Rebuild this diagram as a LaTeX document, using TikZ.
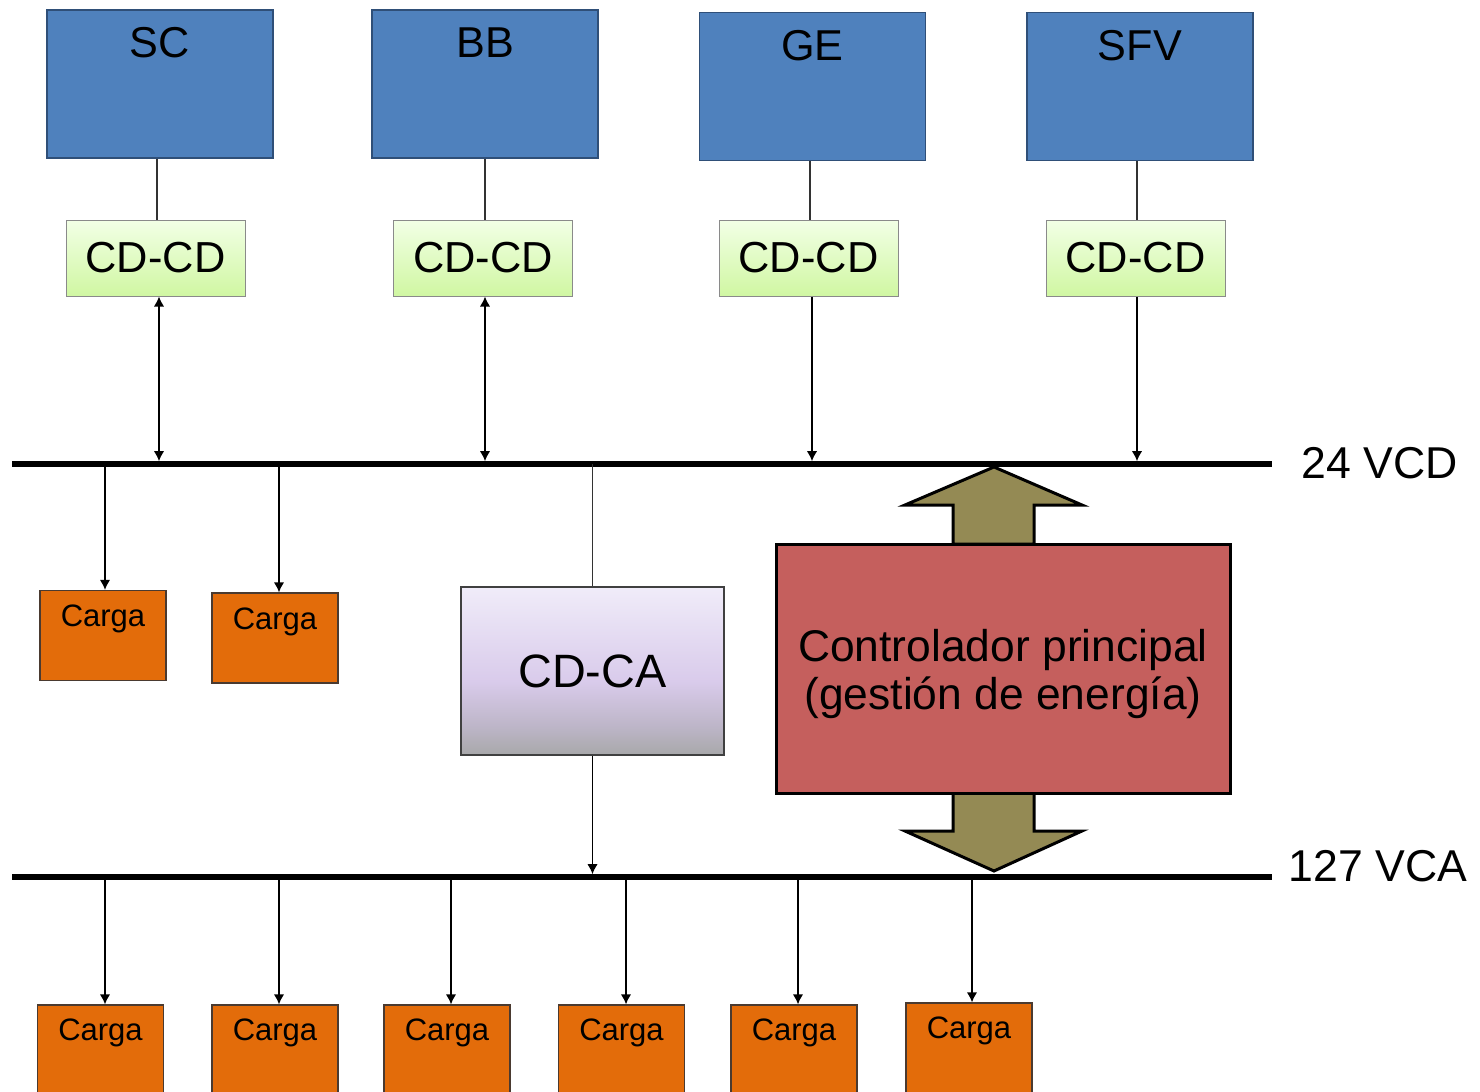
\documentclass[tikz,border=0pt]{standalone}
\usepackage{fontspec}
\setmainfont{Liberation Sans}
\usetikzlibrary{arrows.meta}
\definecolor{bluefill}{HTML}{4F81BD}
\definecolor{blueline}{HTML}{2F4F78}
\definecolor{greentop}{HTML}{F2FFE6}
\definecolor{greenbot}{HTML}{D0F7A2}
\definecolor{greenline}{HTML}{8A8A8A}
\definecolor{lavtop}{HTML}{F0ECF9}
\definecolor{lavmid}{HTML}{D9CBEB}
\definecolor{lavlow}{HTML}{BEB6C9}
\definecolor{lavbot}{HTML}{A8A8AA}
\definecolor{cargafill}{HTML}{E36C0A}
\definecolor{cargaline}{HTML}{4A3A30}
\definecolor{ctrlfill}{HTML}{C55F5D}
\definecolor{olivefill}{HTML}{948A54}
\pgfdeclareverticalshading{cdcashade}{100bp}{color(0bp)=(lavbot); color(25bp)=(lavbot); color(34bp)=(lavlow); color(47bp)=(lavmid); color(75bp)=(lavtop); color(100bp)=(lavtop)}
\begin{document}
\begin{tikzpicture}[x=0.5pt,y=-0.5pt,
  srcbox/.style={draw=blueline, line width=0.7pt, fill=bluefill, minimum width=113pt, minimum height=74pt, inner sep=0pt},
  srctext/.style={font=\fontsize{21.6}{24}\selectfont, inner sep=0pt},
  dcbox/.style={draw=greenline, line width=0.5pt, top color=greentop, bottom color=greenbot, minimum width=89.5pt, minimum height=38pt, inner sep=0pt, font=\fontsize{21.7}{24}\selectfont},
  cabox/.style={draw=black!75, line width=0.6pt, shading=cdcashade, minimum width=131.5pt, minimum height=84pt, inner sep=0pt, font=\fontsize{23.4}{26}\selectfont},
  cargabox/.style={draw=cargaline, line width=0.6pt, fill=cargafill, minimum width=63pt, minimum height=45pt, inner sep=0pt},
  cargatext/.style={font=\fontsize{15.5}{18}\selectfont, inner sep=0pt},
  ctrlbox/.style={draw=black, line width=1.5pt, fill=ctrlfill, minimum width=227pt, minimum height=124.5pt, inner sep=0pt},
  ctrltext/.style={align=center, inner sep=0pt, font=\fontsize{22.2}{24}\selectfont},
  fatarrow/.style={draw=black, line width=1.5pt, fill=olivefill, line join=miter},
  bus/.style={line width=2.75pt},
  buslabel/.style={font=\fontsize{22.3}{26}\selectfont, inner sep=0pt},
  wire/.style={line width=0.7pt, black!80},
  arr/.style={line width=0.8pt, -{Latex[length=5pt,width=5.2pt]}},
  arrbus/.style={arr, shorten >=1.4pt},
  dblarr/.style={line width=0.8pt, {Latex[length=5pt,width=5.2pt]}-{Latex[length=5pt,width=5.2pt]}, shorten >=1.4pt}
]
\clip (0,0) rectangle (1480,1092);
\fill[white] (0,0) rectangle (1480,1092);

% sources
\node[srcbox] (sc) at (160,84) {};
\node[srctext] (sct) at (160,43) {SC};
\node[srcbox] (bb) at (485,84) {};
\node[srctext] (bbt) at (485,43) {BB};
\node[srcbox] (ge) at (812.5,86.5) {};
\node[srctext] (get) at (812.5,46) {GE};
\node[srcbox] (sfv) at (1140,86.5) {};
\node[srctext] (sfvt) at (1140,46) {SFV};

% converters
\node[dcbox] (c1) at (155.5,258) {CD-CD};
\node[dcbox] (c2) at (483,258) {CD-CD};
\node[dcbox] (c3) at (808.5,258) {CD-CD};
\node[dcbox] (c4) at (1135.5,258) {CD-CD};

\draw[wire] (sc.south -| 157,0) -- (157,220);
\draw[wire] (bb.south -| 485,0) -- (485,220);
\draw[wire] (ge.south -| 810,0) -- (810,220);
\draw[wire] (sfv.south -| 1137,0) -- (1137,220);

% DC bus
\coordinate (dcW) at (12,464);
\coordinate (dcE) at (1272,464);
\draw[bus] (dcW) -- (dcE);
\node[buslabel] (dcl) at (1380,463) {24 VCD};

\coordinate (s1) at (159,464);
\coordinate (s2) at (485,464);
\coordinate (s3) at (812,464);
\coordinate (s4) at (1137,464);
\draw[dblarr] (s1 |- c1.south) -- (s1);
\draw[dblarr] (s2 |- c2.south) -- (s2);
\draw[arrbus] (s3 |- c3.south) -- (s3);
\draw[arrbus] (s4 |- c4.south) -- (s4);

% DC loads
\coordinate (t1) at (105,464);
\coordinate (t2) at (279,464);
\node[cargabox] (u1) at (103,635.5) {};
\node[cargatext] (u1t) at (103,619) {Carga};
\node[cargabox] (u2) at (275,638) {};
\node[cargatext] (u2t) at (275,622) {Carga};
\draw[arr] (t1) -- (t1 |- u1.north);
\draw[arr] (t2) -- (t2 |- u2.north);

% inverter
\coordinate (t3) at (592.5,464);
\node[cabox] (ca) at (592.5,671) {CD-CA};
\draw[wire] (t3) -- (ca.north);

% AC bus
\coordinate (acW) at (12,877);
\coordinate (acE) at (1272,877);
\draw[bus] (acW) -- (acE);
\node[buslabel] (acl) at (1378,866) {127 VCA};
\draw[arrbus] (ca.south) -- (ca.south |- acW);

% controller and fat arrows
\draw[fatarrow] (953,544) -- (953,505) -- (905,505) -- (994,467) -- (1082,505) -- (1034,505) -- (1034,544) -- cycle;
\draw[fatarrow] (953,793) -- (953,831) -- (905,831) -- (994,871) -- (1082,831) -- (1034,831) -- (1034,793) -- cycle;
\node[ctrlbox] (ctrl) at (1003,668.5) {};
\node[ctrltext] (ctrlt) at (1003,674) {Controlador principal\\(gestión de energía)};

% AC loads
\foreach \tx/\bx/\by [count=\i] in {105/100.5/1050, 279/275/1050, 451/447/1050, 626/621.5/1050, 798/794/1050, 972/969/1048}{
  \coordinate (a\i) at (\tx,877);
  \node[cargabox] (l\i) at (\bx,\by) {};
  \node[cargatext] (l\i t) at ([yshift=-14pt]l\i.north) {Carga};
  \draw[arr] (a\i) -- (a\i |- l\i.north);
}
\end{tikzpicture}
\end{document}
